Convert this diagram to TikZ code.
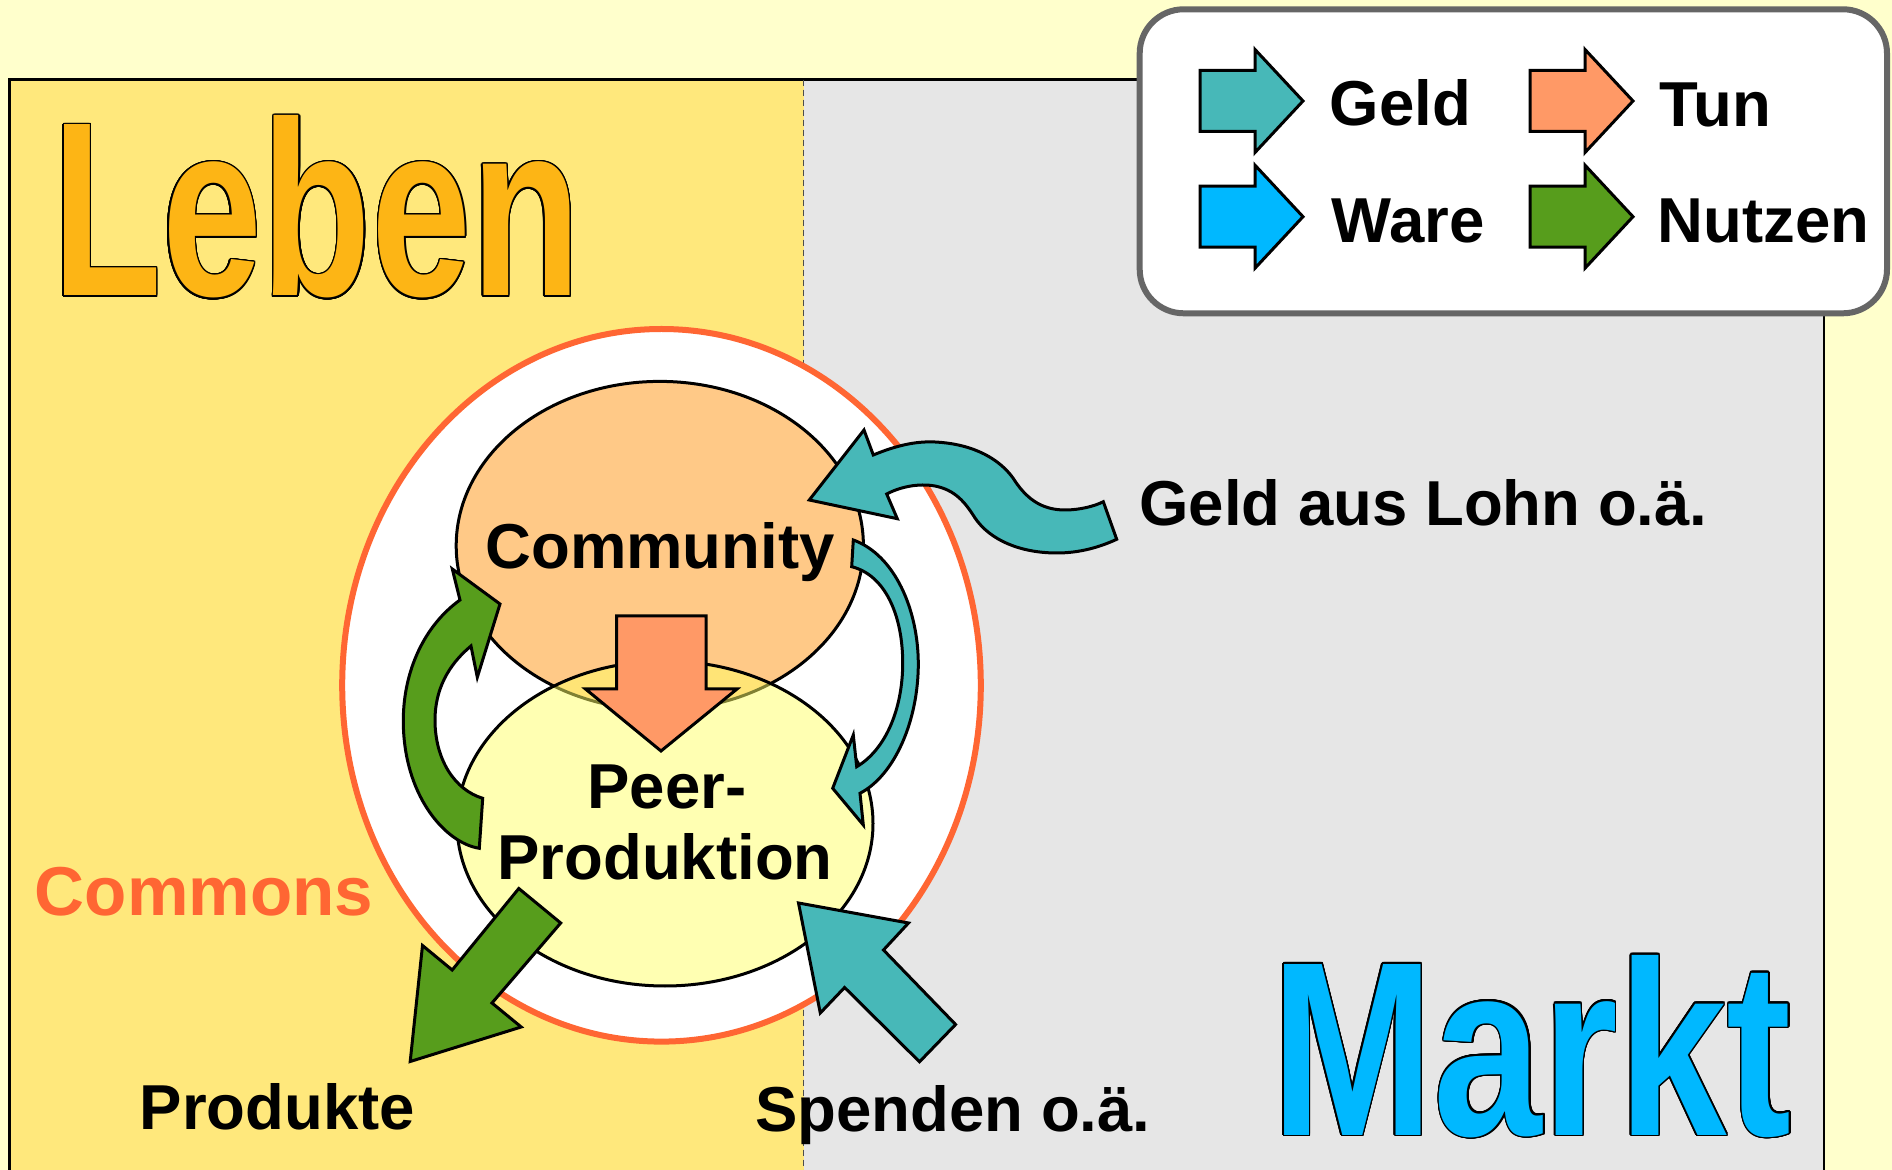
\documentclass[tikz,border=0pt]{standalone}
\usepackage{graphicx}
\usepackage{fontspec}
\setmainfont{Liberation Sans}
\definecolor{bgyellow}{HTML}{FFFFCC}
\definecolor{lifeyellow}{HTML}{FFE87C}
\definecolor{marketgray}{HTML}{E6E6E6}
\definecolor{lebenorange}{HTML}{FDB515}
\definecolor{marktcyan}{HTML}{00B8FF}
\definecolor{geldteal}{HTML}{47B8B8}
\definecolor{tunorange}{HTML}{FF9966}
\definecolor{nutzengreen}{HTML}{579D1C}
\definecolor{commfill}{HTML}{FFC987}
\definecolor{peerfill}{HTML}{FFFF66}
\definecolor{commonsred}{HTML}{FF6633}
\definecolor{legendgray}{HTML}{666666}
\begin{document}
\begin{tikzpicture}[x=0.5pt,y=-0.5pt,
  lbl/.style={inner sep=0pt, font=\bfseries\fontsize{31.75}{38}\selectfont, text=black},
  bigword/.style={inner sep=0pt, anchor=base west, font=\bfseries\fontsize{124.3}{130}\selectfont},
  blockarrow/.style={draw=black, line width=1.5pt, line join=miter},
  ellipseline/.style={draw=black, line width=1.5pt}]
\useasboundingbox (0,0) rectangle (1892,1170);
% background and regions
\fill[bgyellow] (0,0) rectangle (1892,1170);
\fill[lifeyellow] (9.7,79.6) rectangle (803.6,1170);
\fill[marketgray] (803.6,79.6) rectangle (1824,1170);
\draw[black, line width=1.25pt] (9.7,1170) -- (9.7,79.6) -- (1824,79.6) -- (1824,1170);
\draw[black!70, line width=0.5pt, dash pattern=on 3pt off 2pt] (803.6,79.6) -- (803.6,1170);
% big words with outline
\foreach \a in {0,15,...,345} {
  \node[bigword, text=black, xshift={0.75pt*cos(\a)}, yshift={0.75pt*sin(\a)}] (lebeno\a) at (52,296) {\scalebox{0.722}[1]{Leben}};
  \node[bigword, text=black, xshift={0.75pt*cos(\a)}, yshift={0.75pt*sin(\a)}] (markto\a) at (1271,1135) {\scalebox{0.785}[1]{Markt}};
}
\node[bigword, text=lebenorange] (leben) at (52,296) {\scalebox{0.722}[1]{Leben}};
\node[bigword, text=marktcyan] (markt) at (1271,1135) {\scalebox{0.785}[1]{Markt}};
% circles
\draw[commonsred, line width=3pt, fill=white] (661.5,685.3) ellipse [x radius=319.3, y radius=356.3];
\draw[ellipseline, fill=commfill] (659.8,545.7) ellipse [x radius=203.6, y radius=164.3];
\fill[peerfill, fill opacity=0.5] (665,823.5) ellipse [x radius=208, y radius=162.5];
\draw[ellipseline] (665,823.5) ellipse [x radius=208, y radius=162.5];
% Tun arrow (community -> peer)
\draw[blockarrow, fill=tunorange] (616.5,616) -- (706,616) -- (706,689) -- (737,689) -- (661,751) -- (585.5,689) -- (616.5,689) -- cycle;
% green curved arrow (peer -> community)
\draw[blockarrow, fill=nutzengreen] (500,604) -- (477.3,677.3) -- (471,646)
  .. controls (448,665) and (435,690) .. (435,720)
  .. controls (435,760) and (455,790) .. (482.7,798.3)
  -- (479.3,848.3)
  .. controls (445,843) and (403,795) .. (403.3,720)
  .. controls (403.5,670) and (425,625) .. (460,600)
  -- (452.3,569) -- cycle;
% teal curved arrow (community -> peer)
\draw[blockarrow, fill=geldteal] (853.3,540)
  .. controls (895,555) and (918,610) .. (918.3,663)
  .. controls (918.5,720) and (895,775) .. (860,793.3)
  -- (863.3,825) -- (832.7,788.3) -- (853.3,735) -- (856.7,766.7)
  .. controls (885,750) and (902.7,710) .. (902.7,663)
  .. controls (902.7,615) and (885,575) .. (851.7,566.7)
  -- cycle;
% wavy teal arrow (Geld aus Lohn)
\draw[blockarrow, fill=geldteal] (809.3,500) -- (864,430) -- (873.3,455)
  .. controls (895,446) and (915,441) .. (935,442)
  .. controls (975,444) and (1000,460) .. (1013,478)
  .. controls (1025,497) and (1040,510) .. (1065,510)
  .. controls (1080,510) and (1095,506) .. (1103.3,501.7)
  -- (1116.7,539.3)
  .. controls (1100,547) and (1080,553) .. (1057,553)
  .. controls (1020,553) and (990,540) .. (975,518)
  .. controls (965,502) and (955,490) .. (935,486)
  .. controls (918,483) and (900,487) .. (886.7,494)
  -- (897.3,518.7) -- cycle;
% Spenden arrow
\draw[blockarrow, fill=geldteal] (798.5,903) -- (908.5,923) -- (883.5,950) -- (955.6,1024.5) -- (919.5,1061.8) -- (844.6,987.5) -- (820.3,1013) -- cycle;
% Produkte arrow
\draw[blockarrow, fill=nutzengreen] (518.8,888.5) -- (560.7,923) -- (492,1003) -- (521.2,1027) -- (410.2,1061.5) -- (422.5,945.5) -- (452.2,970) -- cycle;
% texts
\node[lbl, anchor=base] (community) at (660,569) {Community};
\node[lbl, anchor=base] (peer) at (667,809) {Peer-};
\node[lbl, anchor=base] (produktion) at (665,880) {Produktion};
\node[lbl, anchor=base west] (lohn) at (1139,526) {Geld aus Lohn o.ä.};
\node[inner sep=0pt, anchor=base west, font=\bfseries\fontsize{34.6}{40}\selectfont, text=commonsred] (commons) at (34.5,915) {Commons};
\node[lbl, anchor=base west] (produkte) at (139.5,1129) {Produkte};
\node[lbl, anchor=base west] (spenden) at (755,1131) {Spenden o.ä.};
% legend
\draw[legendgray, line width=3pt, fill=white, rounded corners=22pt] (1139.7,9.3) rectangle (1887,313.3);
\draw[blockarrow, fill=geldteal, shift={(1200,101)}] (0,-30.5) -- (55,-30.5) -- (55,-51.5) -- (103,0) -- (55,51.5) -- (55,30.5) -- (0,30.5) -- cycle;
\draw[blockarrow, fill=tunorange, shift={(1530,101)}] (0,-30.5) -- (55,-30.5) -- (55,-51.5) -- (103,0) -- (55,51.5) -- (55,30.5) -- (0,30.5) -- cycle;
\draw[blockarrow, fill=marktcyan, shift={(1200,216.7)}] (0,-30.5) -- (55,-30.5) -- (55,-51.5) -- (103,0) -- (55,51.5) -- (55,30.5) -- (0,30.5) -- cycle;
\draw[blockarrow, fill=nutzengreen, shift={(1530,216.7)}] (0,-30.5) -- (55,-30.5) -- (55,-51.5) -- (103,0) -- (55,51.5) -- (55,30.5) -- (0,30.5) -- cycle;
\node[lbl, anchor=base west] (geld) at (1329.5,126) {Geld};
\node[lbl, anchor=base west] (tun) at (1658.7,127) {Tun};
\node[lbl, anchor=base west] (ware) at (1331,243) {Ware};
\node[lbl, anchor=base west] (nutzen) at (1657.4,243) {Nutzen};
\end{tikzpicture}
\end{document}
